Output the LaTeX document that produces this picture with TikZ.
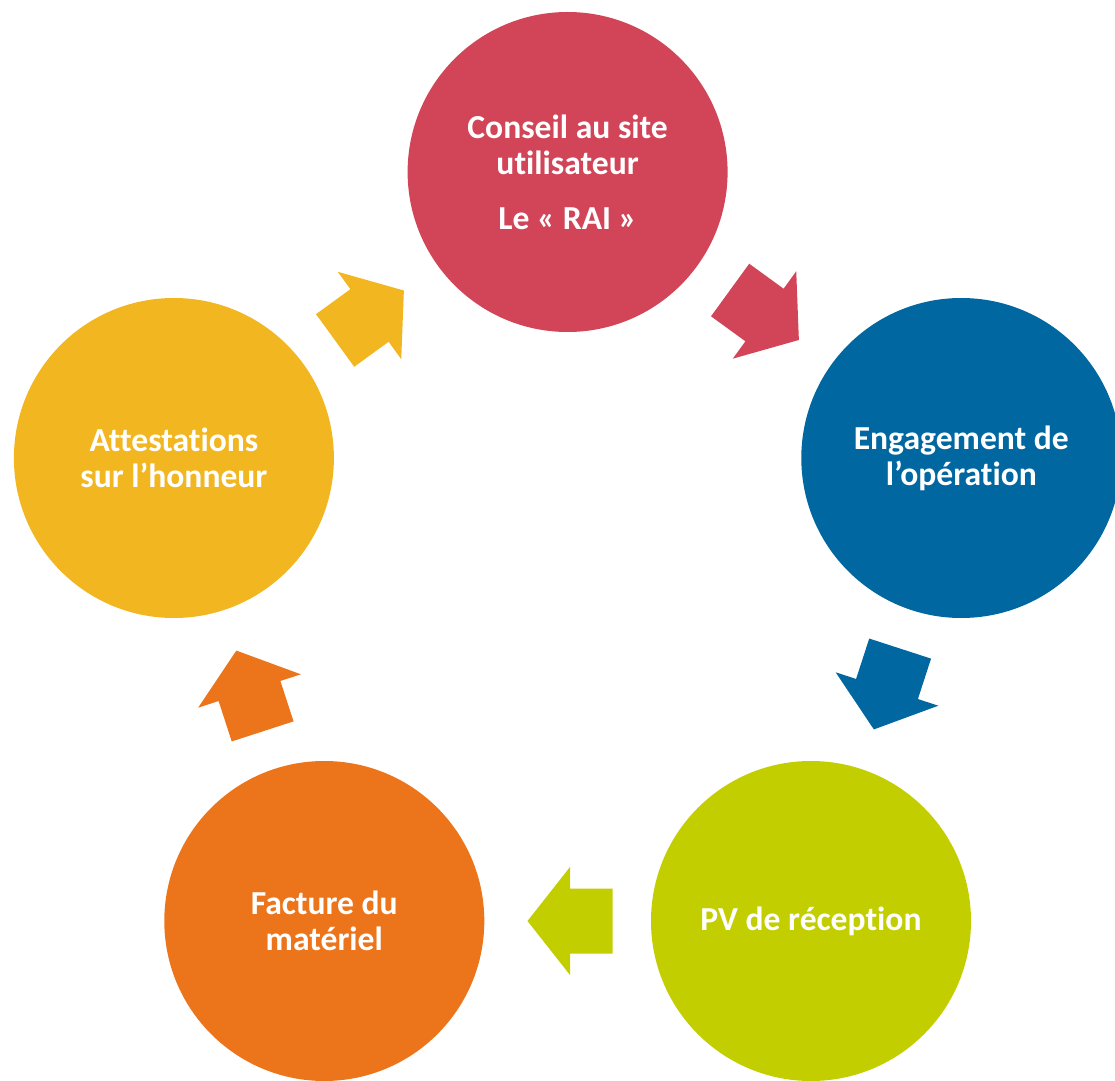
\documentclass[tikz,border=0pt]{standalone}
\usepackage{fontspec}
\setmainfont{Carlito}[Ligatures={NoCommon,NoContextual}]
\definecolor{cRed}{RGB}{210,69,88}
\definecolor{cBlue}{RGB}{0,103,161}
\definecolor{cGreen}{RGB}{195,206,0}
\definecolor{cOrange}{RGB}{236,117,28}
\definecolor{cYellow}{RGB}{241,182,32}
\begin{document}
\begin{tikzpicture}[x=0.5pt,y=-0.5pt,
  circ/.style={circle,inner sep=0pt,minimum size=160pt,align=center,text=white,
    font=\bfseries\fontsize{16.8}{18}\selectfont},
  barrow/.pic={\fill[pic actions] (-21.25pt,-16.25pt) -- (0pt,-16.25pt) -- (0pt,-27pt) -- (21.25pt,0pt)
      -- (0pt,27pt) -- (0pt,16.25pt) -- (-21.25pt,16.25pt) -- cycle;}]
\useasboundingbox (0,0) rectangle (1115,1081);
\node[circ,fill=cRed] (c1) at (567.6,172) {Conseil au site\\utilisateur\\[9.5pt]Le « RAI »};
\node[circ,fill=cBlue] (c2) at (961.3,458) {Engagement de\\l’opération};
\node[circ,fill=cGreen] (c3) at (811,921) {PV de réception};
\node[circ,fill=cOrange] (c4) at (324.3,921) {Facture du\\matériel};
\node[circ,fill=cYellow] (c5) at (173.9,458) {Attestations\\sur l’honneur};
\pic[fill=cRed,rotate=-36] (a1) at (764.5,315) {barrow};
\pic[fill=cBlue,rotate=-108] (a2) at (887,689) {barrow};
\pic[fill=cGreen,rotate=180] (a3) at (570,921) {barrow};
\pic[fill=cOrange,rotate=108] (a4) at (249.5,691) {barrow};
\pic[fill=cYellow,rotate=36] (a5) at (369.5,315.5) {barrow};
\end{tikzpicture}
\end{document}
